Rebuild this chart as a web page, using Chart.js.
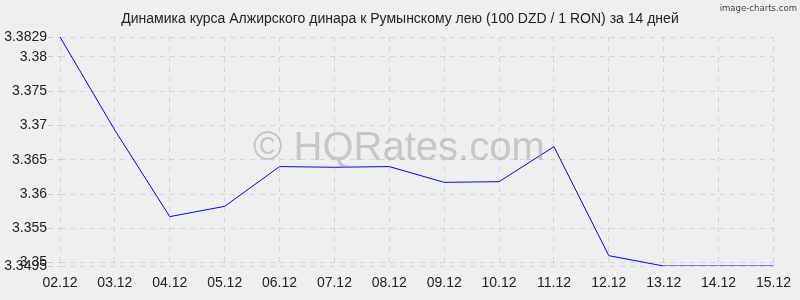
<!DOCTYPE html>
<html><head><meta charset="utf-8">
<script src="https://cdn.jsdelivr.net/npm/chart.js@4"></script>
<style>
html,body{margin:0;padding:0;background:#efefef;}
#wrap{position:relative;width:800px;height:300px;font-family:"Liberation Sans",Arial,sans-serif;}
#title{position:absolute;left:0;top:10px;width:800px;text-align:center;font-size:14px;color:#222;}
#brand{position:absolute;right:3px;top:2px;font-size:9.5px;color:#444;font-family:"DejaVu Sans Condensed","DejaVu Sans",sans-serif;}
#wm{position:absolute;left:253px;top:124px;font-size:40px;color:rgba(150,150,150,0.45);white-space:nowrap;}
canvas{position:absolute;left:0;top:0;}
</style></head><body>
<div id="wrap">
<canvas id="c" width="800" height="300"></canvas>
<div id="wm">© HQRates.com</div>
<div id="title">Динамика курса Алжирского динара к Румынскому лею (100 DZD / 1 RON) за 14 дней</div>
<div id="brand">image-charts.com</div>
</div>
<script>
const categories = ["02.12","03.12","04.12","05.12","06.12","07.12","08.12","09.12","10.12","11.12","12.12","13.12","14.12","15.12"];
const rates = [3.3829,3.3693,3.3567,3.3582,3.3640,3.3639,3.3640,3.3617,3.3618,3.3669,3.3510,3.3495,3.3495,3.3495];
const yTicks = [3.3495,3.35,3.355,3.36,3.365,3.37,3.375,3.38,3.3829];
const yMin = 3.3495, yMax = 3.3829;

new Chart(document.getElementById('c'), {
  type: 'line',
  data: { labels: categories, datasets: [{ data: rates, borderColor: '#0000ff', borderWidth: 1, pointRadius: 0, tension: 0, fill: false }] },
  options: {
    responsive: false, animation: false,
    layout: { padding: { top: 37, right: 21, left: 0, bottom: 0 } },
    plugins: { legend: { display: false }, tooltip: { enabled: false }, title: { display: false } },
    scales: {
      x: {
        offset: false,
        grid: { color: '#d4d4d4', drawTicks: false },
        border: { display: false, dash: [5,5] },
        ticks: { color: '#222', font: { size: 14, family: '"Liberation Sans", Arial, sans-serif' }, padding: 9, maxRotation: 0, autoSkip: false },
        afterFit: s => { s.height = 34; }
      },
      y: {
        min: yMin, max: yMax,
        afterBuildTicks: s => { s.ticks = yTicks.map(v => ({ value: v })); },
        grid: { color: '#d4d4d4', drawTicks: true, tickLength: 12, tickBorderDash: [5,5], tickColor: '#c8c8c8' },
        border: { display: false, dash: [5,5] },
        ticks: { color: '#222', font: { size: 14, family: '"Liberation Sans", Arial, sans-serif' }, padding: 1, callback: v => String(v) },
        afterFit: s => { s.width = 60; }
      }
    }
  }
});
</script>
</body></html>
